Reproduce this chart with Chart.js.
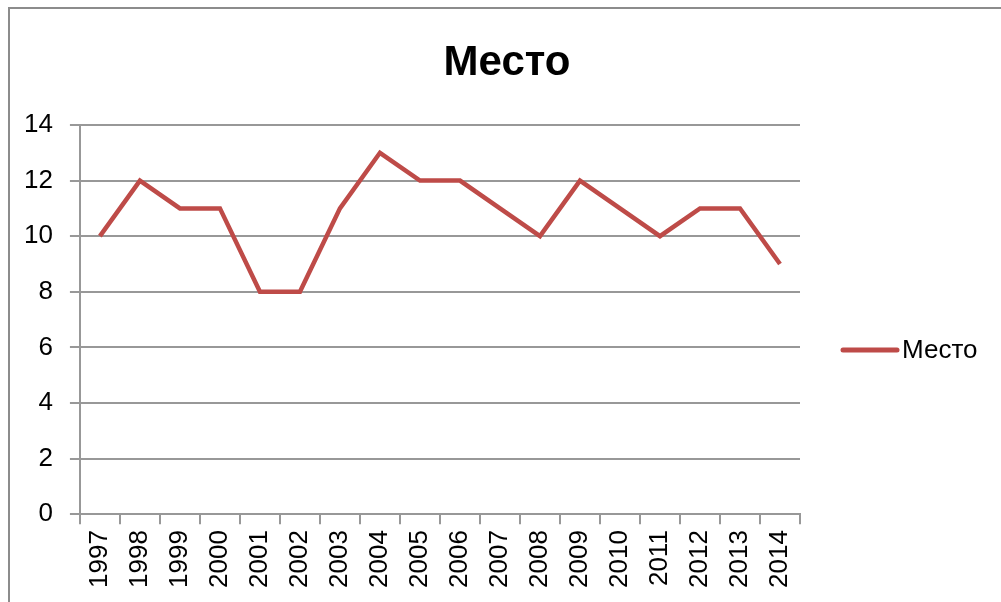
<!DOCTYPE html>
<html>
<head>
<meta charset="utf-8">
<script src="https://cdn.jsdelivr.net/npm/chart.js@4/dist/chart.umd.min.js"></script>
<style>
  html, body { margin: 0; padding: 0; background: #fff; overflow: hidden; }
  #wrap { position: relative; width: 1001px; height: 602px; }
  #frame { position: absolute; left: 8px; top: 7px; width: 1200px; height: 800px; border: 2px solid #8c8c8c; box-sizing: border-box; pointer-events: none; }
  canvas { position: absolute; left: 0; top: 0; }
</style>
</head>
<body>
<div id="wrap">
  <canvas id="c" width="1001" height="602"></canvas>
  <div id="frame"></div>
</div>
<script>
const titleText = 'Место';
const seriesName = 'Место';
const years = ['1997','1998','1999','2000','2001','2002','2003','2004','2005','2006','2007','2008','2009','2010','2011','2012','2013','2014'];
const places = [10, 12, 11, 11, 8, 8, 11, 13, 12, 12, 11, 10, 12, 11, 10, 11, 11, 9];
const yTicks = [0, 2, 4, 6, 8, 10, 12, 14];

const FONT = "'Liberation Sans', Arial, sans-serif";
const lineColor = '#BE4B48';
const gridColor = '#989898';

const extras = {
  id: 'extras',
  afterDraw(chart) {
    const ctx = chart.ctx;
    const ds = chart.data.datasets[0];
    ctx.save();
    // title centred on the whole chart
    ctx.fillStyle = '#000';
    ctx.font = 'bold 42px ' + FONT;
    ctx.textAlign = 'center';
    ctx.textBaseline = 'middle';
    ctx.fillText(titleText, 507, 63);
    // legend
    const y = 350;
    ctx.strokeStyle = ds.borderColor;
    ctx.lineWidth = 5;
    ctx.lineCap = 'round';
    ctx.beginPath();
    ctx.moveTo(843, y);
    ctx.lineTo(897, y);
    ctx.stroke();
    ctx.font = '26px ' + FONT;
    ctx.textAlign = 'left';
    ctx.fillText(ds.label, 902, y + 1);
    ctx.restore();
  }
};

new Chart(document.getElementById('c'), {
  type: 'line',
  data: {
    labels: years,
    datasets: [{
      label: seriesName,
      data: places,
      borderColor: lineColor,
      backgroundColor: lineColor,
      borderWidth: 4.5,
      pointRadius: 0,
      tension: 0,
      fill: false
    }]
  },
  options: {
    responsive: false,
    animation: false,
    layout: { padding: { left: 7, right: 201, top: 125, bottom: 8 } },
    plugins: {
      legend: { display: false },
      tooltip: { enabled: false },
      title: { display: false }
    },
    scales: {
      x: {
        offset: true,
        grid: {
          offset: true,
          drawOnChartArea: false,
          drawTicks: true,
          tickLength: 10,
          color: gridColor,
          lineWidth: 2
        },
        border: { color: gridColor, width: 2 },
        ticks: {
          color: '#000',
          font: { family: FONT, size: 26 },
          minRotation: 90,
          maxRotation: 90,
          padding: 6,
          autoSkip: false
        }
      },
      y: {
        min: 0,
        max: 14,
        afterBuildTicks(axis) { axis.ticks = yTicks.map(v => ({ value: v })); },
        grid: {
          color: gridColor,
          lineWidth: 2,
          tickLength: 10
        },
        border: { color: gridColor, width: 2 },
        ticks: {
          color: '#000',
          font: { family: FONT, size: 26 },
          padding: 17
        }
      }
    }
  },
  plugins: [extras]
});
</script>
</body>
</html>
